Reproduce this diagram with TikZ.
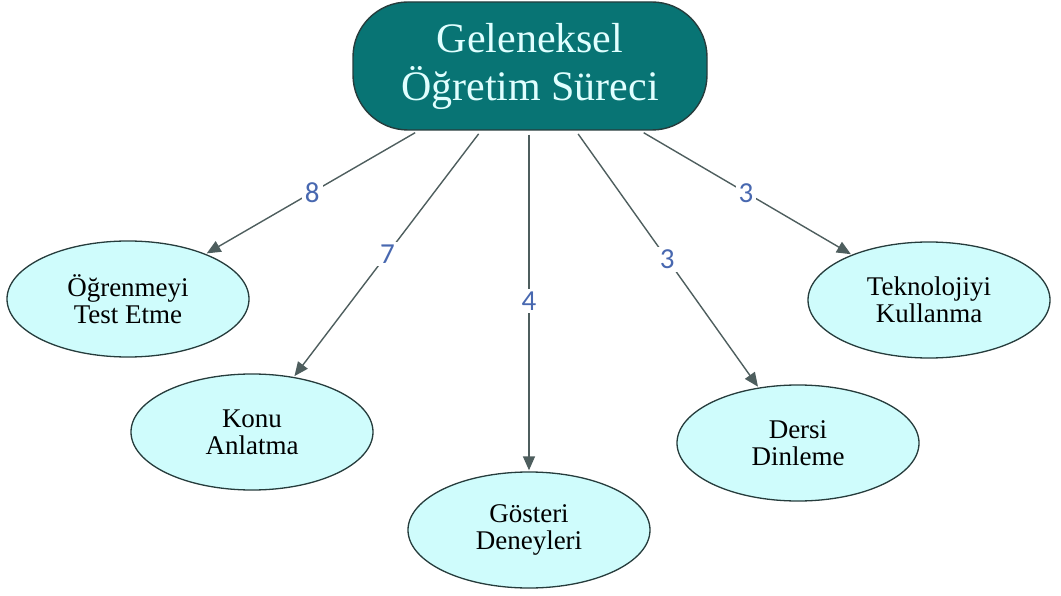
\documentclass[tikz,border=0pt]{standalone}
\usepackage{fontspec}
\setmainfont{Liberation Serif}
\newfontfamily\labfont{Carlito}
\usetikzlibrary{shapes.geometric,arrows.meta}
\definecolor{teal1}{HTML}{087474}
\definecolor{topfg}{HTML}{E0FFFF}
\definecolor{ellfill}{HTML}{CFFCFC}
\definecolor{ellline}{HTML}{263C3C}
\definecolor{edgecol}{HTML}{4E5E5E}
\definecolor{labcol}{HTML}{4868B0}
\tikzset{
  topbox/.style={draw=ellline, line width=1.4pt, fill=teal1, rounded corners=55pt,
    minimum width=354pt, minimum height=128pt, inner sep=0pt, text=topfg, align=center,
    font=\fontsize{42}{48}\selectfont},
  leaf/.style={ellipse, draw=ellline, line width=1.3pt, fill=ellfill,
    minimum width=242pt, minimum height=116pt, inner sep=0pt, align=center,
    font=\fontsize{27}{27}\selectfont},
  conn/.style={draw=edgecol, line width=1.4pt, -{Triangle[length=14pt,width=12pt]},
    shorten <=4pt, shorten >=1pt},
  lab/.style={fill=white, inner sep=3pt, text=labcol, font=\labfont\fontsize{29}{29}\selectfont}
}
\begin{document}
\begin{tikzpicture}[x=1pt,y=-1pt]
\useasboundingbox (0,0) rectangle (1061,596);
\node[topbox] (top) at (530,66) {Geleneksel\\Öğretim Süreci};
\node[leaf] (test) at (128,299) {Öğrenmeyi\\Test Etme};
\node[leaf] (konu) at (252,432) {Konu\\Anlatma};
\node[leaf] (gost) at (529,530) {Gösteri\\Deneyleri};
\node[leaf] (ders) at (798,443) {Dersi\\Dinleme};
\node[leaf] (tekn) at (929,300) {Teknolojiyi\\Kullanma};
\draw[conn] (top) -- node[lab] (l1) {8} (test);
\draw[conn] (top) -- node[lab] (l2) {7} (konu);
\draw[conn] (top.south -| gost.north) -- node[lab] (l3) {4} (gost);
\draw[conn] (top) -- node[lab] (l4) {3} (ders);
\draw[conn] (top) -- node[lab] (l5) {3} (tekn);
\end{tikzpicture}
\end{document}
